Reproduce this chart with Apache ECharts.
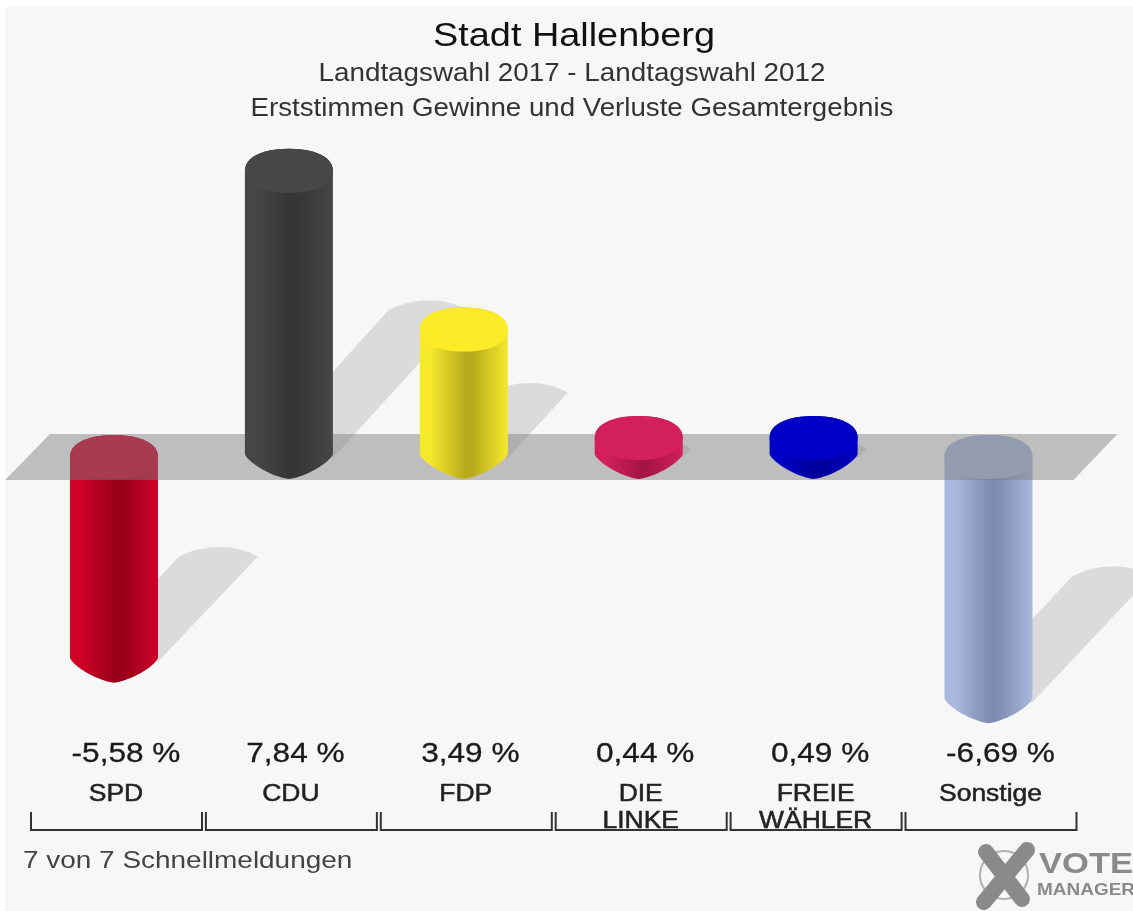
<!DOCTYPE html>
<html>
<head>
    <meta charset="utf-8">
    <title>Stadt Hallenberg</title>
    <style>html,body{margin:0;background:#fff}</style>
    <script src="https://cdn.jsdelivr.net/npm/echarts@6/dist/echarts.min.js"></script>
</head>
<body>
    <div id="main" style="width:1133px;height:911px;"></div>
    <script>
        var categories = ['SPD', 'CDU', 'FDP', 'DIE\nLINKE', 'FREIE\nWÄHLER', 'Sonstige'];
        var values = [-5.58, 7.84, 3.49, 0.44, 0.49, -6.69];
        var valueLabels = ['-5,58 %', '7,84 %', '3,49 %', '0,44 %', '0,49 %', '-6,69 %'];

        // colours per party: top face, body edge, body middle
        var topColors = ['#cc0026', '#474747', '#fcec27', '#d3205c', '#0000c6', '#a6b6dc'];
        var edgeColors = ['#d00028', '#464646', '#f6e92c', '#d3205c', '#0000c6', '#a8b8de'];
        var darkColors = ['#98001a', '#363636', '#b8aa1c', '#a61444', '#00009a', '#7d8cb0'];

        var RX = 44, RY = 22, FONT = '"Liberation Sans", Arial, sans-serif';
        var MIN_H = 19;      // small bars do not get thinner than this

        var myChart = echarts.init(document.getElementById('main'));

        function arc(cx, cy, rx, ry, p, from, to, n) {
            var pts = [];
            for (var i = 0; i <= n; i++) {
                var a = from + (to - from) * i / n;
                var c = Math.cos(a), s = Math.sin(a);
                pts.push([
                    cx + rx * (c < 0 ? -1 : 1) * Math.pow(Math.abs(c), 2 / p),
                    cy + ry * (s < 0 ? -1 : 1) * Math.pow(Math.abs(s), 2 / p)
                ]);
            }
            return pts;
        }

        function barGeom(api) {
            var i = api.value(0), v = api.value(1);
            var zero = api.coord([i, 0]);
            var end = api.coord([i, v]);
            var h = Math.max(Math.abs(end[1] - zero[1]), MIN_H);
            var topY = v > 0 ? zero[1] - h : zero[1];
            var botY = v > 0 ? zero[1] : zero[1] + h;
            return { i: i, v: v, cx: zero[0], topY: topY, botY: botY, h: h };
        }

        function renderBar(params, api) {
            var g = barGeom(api);
            var outline = arc(g.cx, g.topY, RX, RY, 2.2, Math.PI, Math.PI * 2, 24)
                .concat(arc(g.cx, g.botY - 3, RX, RY + 3, 1.4, 0, Math.PI, 32));
            var body = {
                type: 'linear', x: 0, y: 0, x2: 1, y2: 0,
                colorStops: [
                    { offset: 0, color: edgeColors[g.i] },
                    { offset: 0.12, color: edgeColors[g.i] },
                    { offset: 0.52, color: darkColors[g.i] },
                    { offset: 0.6, color: darkColors[g.i] },
                    { offset: 1, color: edgeColors[g.i] }
                ]
            };
            return {
                type: 'group',
                children: [
                    { type: 'polygon', shape: { points: outline }, style: { fill: body } },
                    {
                        type: 'polygon',
                        shape: { points: arc(g.cx, g.topY, RX, RY, 2.2, 0, Math.PI * 2, 48) },
                        style: { fill: topColors[g.i] }
                    }
                ]
            };
        }

        function renderShadow(params, api) {
            var g = barGeom(api);
            var baseY = g.botY;
            var tip = [g.cx + 44 + 0.47 * g.h + (g.v < 0 ? 4 : 0), baseY - 0.52 * g.h + 2];
            var left = [tip[0] - 79, tip[1]];
            var pts = [[g.cx + RX, baseY + 1], tip];
            for (var k = 1; k < 16; k++) {
                var t = k / 16, u = 1 - t;
                pts.push([
                    u * u * u * tip[0] + 3 * u * u * t * (tip[0] - 20) + 3 * u * t * t * (left[0] + 24) + t * t * t * left[0],
                    u * u * u * tip[1] + 3 * u * u * t * (tip[1] - 13) + 3 * u * t * t * (tip[1] - 13) + t * t * t * tip[1]
                ]);
            }
            pts.push(left, [g.cx - 35, baseY + 2]);
            return { type: 'polygon', shape: { points: pts }, style: { fill: 'rgba(0,0,0,0.11)' } };
        }

        function renderPlane(params, api) {
            var zero = api.coord([0, 0])[1];
            var s = params.coordSys;
            return {
                type: 'polygon',
                shape: {
                    points: [
                        [s.x - 21.5, zero + 23],
                        [s.x + 23.5, zero - 23],
                        [s.x + s.width + 41.5, zero - 23],
                        [s.x + s.width - 2.5, zero + 23]
                    ]
                },
                style: { fill: 'rgba(125,125,125,0.47)' }
            };
        }

        function renderTexts(params, api) {
            var i = api.value(0), v = api.value(1);
            var p = api.coord([i, 0]);
            return {
                type: 'group',
                children: [
                    {
                        type: 'text', x: p[0] + (v < 0 ? 12 : 6.5), y: 754.5, scaleX: 1.17,
                        style: { text: valueLabels[i], font: '27px ' + FONT, fill: '#1a1a1a', stroke: '#1a1a1a', lineWidth: 0.3, align: 'center', verticalAlign: 'middle' }
                    },
                    {
                        type: 'text', x: p[0] + 2, y: 781, scaleX: 1.15,
                        style: { text: categories[i], font: '23px ' + FONT, lineHeight: 27, fill: '#222', stroke: '#222', lineWidth: 0.5, align: 'center', verticalAlign: 'top' }
                    }
                ]
            };
        }

        function renderBracket(params, api) {
            var x = api.coord([api.value(0), 0])[0] + 2.5;
            return {
                type: 'polyline',
                shape: { points: [[x - 85.5, 812], [x - 85.5, 830], [x + 85.5, 830], [x + 85.5, 812]] },
                style: { fill: null, stroke: '#333', lineWidth: 2 }
            };
        }

        var barData = values.map(function (v, i) { return [i, v]; });
        var negative = barData.filter(function (d) { return d[1] < 0; });
        var positive = barData.filter(function (d) { return d[1] >= 0; });

        function textEl(x, y, text, size, color, stretch, weight) {
            return {
                type: 'text', x: x, y: y, scaleX: stretch, z: 20,
                style: { text: text, font: (weight || '') + size + 'px ' + FONT, fill: color, align: 'center', verticalAlign: 'middle' }
            };
        }

        var option = {
            animation: false,
            backgroundColor: '#fff',
            grid: { left: 26.55, top: 92, width: 1049.4, height: 730 },
            xAxis: { type: 'category', data: categories, show: false },
            yAxis: { type: 'value', min: -10, max: 10, show: false },
            graphic: [
                { type: 'rect', z: -10, shape: { x: 5, y: 7, width: 1128, height: 904 }, style: { fill: '#f7f7f7' } },
                textEl(574, 37, 'Stadt Hallenberg', 33.5, '#111', 1.13),
                textEl(572, 73.5, 'Landtagswahl 2017 - Landtagswahl 2012', 25.5, '#333', 1.09),
                textEl(572, 108.5, 'Erststimmen Gewinne und Verluste Gesamtergebnis', 25.5, '#333', 1.085),
                {
                    type: 'text', x: 23, y: 861, scaleX: 1.15, z: 20,
                    style: { text: '7 von 7 Schnellmeldungen', font: '24.3px ' + FONT, fill: '#444', align: 'left', verticalAlign: 'middle' }
                },
                { type: 'circle', shape: { cx: 1004, cy: 875, r: 24 }, style: { fill: null, stroke: '#b0b0b0', lineWidth: 2 } },
                { type: 'line', shape: { x1: 986, y1: 852, x2: 1022, y2: 899 }, style: { stroke: '#8a8a8a', lineWidth: 16, lineCap: 'round' } },
                { type: 'line', shape: { x1: 1027, y1: 850, x2: 984, y2: 902 }, style: { stroke: '#8a8a8a', lineWidth: 16, lineCap: 'round' } },
                textEl(1086, 865, 'VOTE', 30, '#8a8a8a', 1.15, 'bold '),
                textEl(1086, 890, 'MANAGER', 16.5, '#8a8a8a', 1.15, 'bold ')
            ],
            series: [
                { type: 'custom', z: 1, renderItem: renderShadow, data: barData },
                { type: 'custom', z: 2, renderItem: renderBar, data: negative },
                { type: 'custom', z: 3, renderItem: renderPlane, data: [[0, 0]] },
                { type: 'custom', z: 4, renderItem: renderBar, data: positive },
                { type: 'custom', z: 5, renderItem: renderTexts, data: barData },
                { type: 'custom', z: 5, renderItem: renderBracket, data: barData }
            ]
        };
        myChart.setOption(option);
    </script>
</body>
</html>
